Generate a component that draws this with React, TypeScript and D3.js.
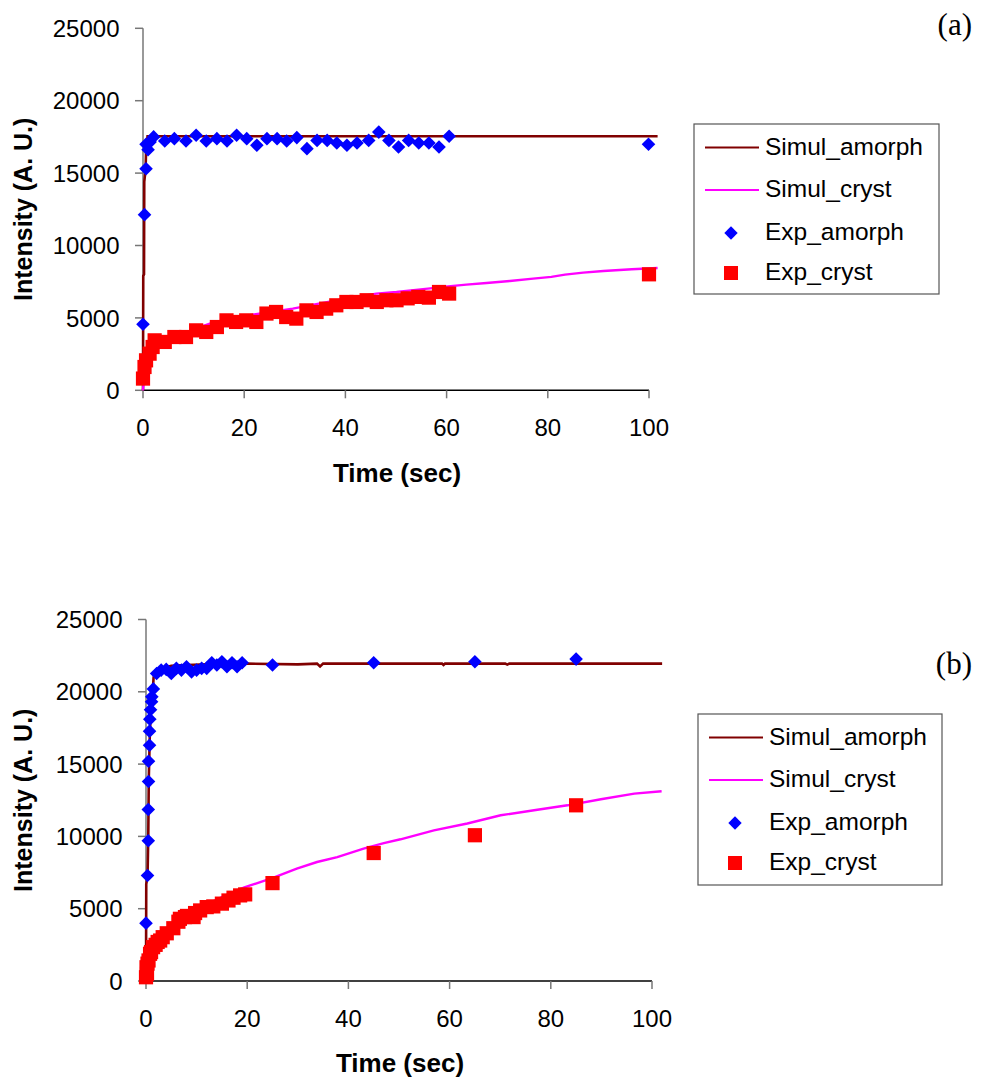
import React from "react";
import * as d3 from "d3";

// ---------- DATA (time in sec, intensity in A.U.) ----------
const xTickValues = [0, 20, 40, 60, 80, 100];
const yTickValues = [0, 5000, 10000, 15000, 20000, 25000];
const legendLabels = ["Simul_amorph", "Simul_cryst", "Exp_amorph", "Exp_cryst"];
const panelLabels = ["(a)", "(b)"];

const topSimulAmorph: [number, number][] = [
  [0, 0], [0.05, 7900], [0.2, 8000], [0.25, 14400], [0.5, 15200], [0.6, 16400], [0.9, 17540], [101.7, 17540],
];
const topSimulCryst: [number, number][] = [
  [0, 0], [0.2, 900], [0.5, 1500], [1, 2000], [2, 2600], [4, 3200], [6, 3600], [8, 3900], [10, 4200],
  [13.2, 4600], [17, 4950], [22.3, 5250], [29.6, 5640], [35, 6000], [39.5, 6300], [46.1, 6680], [50.1, 6790],
  [56.3, 7020], [60.3, 7180], [63.9, 7300], [67.9, 7410], [72.5, 7550], [77.1, 7710], [80.7, 7830],
  [83.4, 7990], [87, 8130], [91, 8240], [96.6, 8360], [101.7, 8450],
];
const topExpAmorph: [number, number][] = [
  [0, 4560], [0.3, 12130], [0.6, 15300], [0.6, 16990], [1.0, 16620], [1.4, 17150], [2.1, 17500],
  [4.3, 17220], [6.2, 17380], [8.5, 17220], [10.5, 17610], [12.5, 17220], [14.6, 17380], [16.6, 17220],
  [18.5, 17610], [20.5, 17380], [22.5, 16920], [24.5, 17380], [26.5, 17380], [28.4, 17220], [30.4, 17450],
  [32.4, 16690], [34.4, 17260], [36.4, 17260], [38.3, 17080], [40.3, 16920], [42.3, 17080], [44.6, 17260],
  [46.6, 17830], [48.6, 17260], [50.5, 16800], [52.5, 17260], [54.5, 17080], [56.5, 17080], [58.5, 16800],
  [60.5, 17540], [99.9, 16990],
];
const topExpCryst: [number, number][] = [
  [0, 810], [0.3, 1610], [0.6, 2070], [1.3, 2530], [1.9, 2990], [2.3, 3450], [4.3, 3340], [6.2, 3680],
  [8.5, 3680], [10.5, 4140], [12.5, 4030], [14.6, 4370], [16.5, 4830], [18.4, 4720], [20.4, 4830],
  [22.4, 4720], [24.4, 5300], [26.3, 5410], [28.3, 5060], [30.3, 4950], [32.3, 5520], [34.3, 5410],
  [36.2, 5640], [38.2, 5870], [40.2, 6100], [42.2, 6100], [44.2, 6220], [46.2, 6100], [48.1, 6220],
  [50.1, 6220], [52.3, 6350], [54.4, 6450], [56.5, 6400], [58.5, 6790], [60.5, 6680], [100, 8010],
];

const bottomSimulAmorph: [number, number][] = [
  [0, 0], [0.05, 6700], [0.3, 7200], [0.45, 10000], [0.55, 14000], [0.75, 17000], [1.0, 19000],
  [1.3, 19800], [1.5, 21000], [1.8, 21400], [3, 21600], [5, 21800], [8, 21850], [12, 21900], [20, 21950],
  [30, 21900], [33.8, 21950], [34.4, 21750], [35, 21950], [45, 21950], [58.5, 21950], [58.8, 21850],
  [59.1, 21950], [71, 21950], [71.4, 21880], [71.8, 21950], [102, 21950],
];
const bottomSimulCryst: [number, number][] = [
  [0, 0], [0.3, 1000], [1, 1700], [2, 2400], [4, 3200], [6, 3900], [8, 4400], [10, 4900], [12, 5300],
  [15, 5800], [19.3, 6450], [20.6, 6610], [25.2, 7150], [29.8, 7770], [33.8, 8230], [37.8, 8570],
  [43, 9160], [47, 9540], [50.3, 9800], [56.9, 10420], [63.5, 10890], [70.1, 11460], [76.7, 11810],
  [83.3, 12150], [89.9, 12570], [96.5, 12960], [101.9, 13120],
];
const bottomExpAmorph: [number, number][] = [
  [0, 300], [0, 4000], [0.3, 7300], [0.45, 9700], [0.45, 11860], [0.5, 13800], [0.5, 15200], [0.7, 16300],
  [0.7, 17280], [0.75, 18110], [0.9, 18760], [1.1, 19310], [1.15, 19650], [1.45, 20200], [2.1, 21270],
  [3, 21500], [4, 21550], [5, 21270], [6, 21620], [7, 21500], [8, 21730], [9, 21380], [10, 21500],
  [11, 21620], [12, 21620], [13, 22010], [14, 21850], [15, 22080], [16, 21730], [17, 22010], [18, 21730],
  [19, 22010], [25, 21850], [45, 22010], [65, 22080], [85, 22260],
];
const bottomExpCryst: [number, number][] = [
  [0, 260], [0.1, 950], [0.2, 500], [0.3, 1200], [0.5, 1420], [0.8, 1880], [1.0, 2000], [1.4, 2340],
  [1.9, 2500], [2.3, 2700], [2.8, 2800], [3.3, 3030], [4.1, 3300], [5.4, 3650], [6.4, 4100], [6.7, 4300],
  [7.7, 4420], [8.1, 4500], [9.4, 4420], [9.7, 4700], [10.7, 4880], [12.0, 5110], [13.3, 5160], [15, 5350],
  [16.3, 5570], [17.3, 5760], [18.6, 5920], [19.6, 5990], [25, 6770], [45, 8850], [65, 10080], [85, 12150],
];

// ---------- STYLE ----------
const FONT = "'Liberation Sans', Arial, Helvetica, sans-serif";
const C_AMORPH_LINE = "#800000";
const C_CRYST_LINE = "#FF00FF";
const C_DIAMOND = "#0000FF";
const C_SQUARE = "#FF0000";

type PanelCfg = {
  x0: number; x1: number; yTop: number; yBot: number;
  titleY: number; legend: { x: number; y: number; w: number; h: number };
  label: string; labelY: number;
  simA: [number, number][]; simC: [number, number][]; expA: [number, number][]; expC: [number, number][];
};

const diamondPath = (cx: number, cy: number, r: number) =>
  `M${cx},${cy - r}L${cx + r},${cy}L${cx},${cy + r}L${cx - r},${cy}Z`;

function Panel({ cfg }: { cfg: PanelCfg }) {
  const x = d3.scaleLinear().domain([0, 100]).range([cfg.x0, cfg.x1]);
  const y = d3.scaleLinear().domain([0, 25000]).range([cfg.yBot, cfg.yTop]);
  const line = d3.line<[number, number]>().x((d) => x(d[0])).y((d) => y(d[1]));
  const lg = cfg.legend;
  const rowBase = [30.5, 73, 116, 156];
  return (
    <g>
      {/* axes */}
      <line x1={cfg.x0} x2={cfg.x0} y1={cfg.yTop} y2={cfg.yBot} stroke="#777" strokeWidth={1.5} />
      <line x1={cfg.x0} x2={cfg.x1} y1={cfg.yBot} y2={cfg.yBot} stroke="#000" strokeWidth={1.5} />
      {yTickValues.map((v) => (
        <g key={"y" + v}>
          <line x1={cfg.x0 - 8} x2={cfg.x0} y1={y(v)} y2={y(v)} stroke="#777" strokeWidth={1.5} />
          <text x={cfg.x0 - 23.5} y={y(v) + 8.6} textAnchor="end" fontFamily={FONT} fontSize={24} fill="#000">
            {v}
          </text>
        </g>
      ))}
      {xTickValues.map((v) => (
        <g key={"x" + v}>
          <line x1={x(v)} x2={x(v)} y1={cfg.yBot} y2={cfg.yBot + 8} stroke="#777" strokeWidth={1.5} />
          <text x={x(v)} y={cfg.yBot + 45.7} textAnchor="middle" fontFamily={FONT} fontSize={24} fill="#000">
            {v}
          </text>
        </g>
      ))}
      <text x={(cfg.x0 + cfg.x1) / 2 + 1} y={cfg.titleY} textAnchor="middle" fontFamily={FONT} fontWeight="bold" fontSize={26} fill="#000">
        Time (sec)
      </text>
      <text
        transform={`translate(32,${(cfg.yTop + cfg.yBot) / 2}) rotate(-90)`}
        textAnchor="middle" fontFamily={FONT} fontWeight="bold" fontSize={25} fill="#000"
      >
        Intensity (A. U.)
      </text>

      {/* series */}
      <path d={line(cfg.simA) || ""} fill="none" stroke={C_AMORPH_LINE} strokeWidth={2.6} />
      <path d={line(cfg.simC) || ""} fill="none" stroke={C_CRYST_LINE} strokeWidth={2.4} />
      {cfg.expA.map((d, i) => (
        <path key={"a" + i} d={diamondPath(x(d[0]), y(d[1]), 6.8)} fill={C_DIAMOND} />
      ))}
      {cfg.expC.map((d, i) => (
        <rect key={"c" + i} x={x(d[0]) - 7.1} y={y(d[1]) - 7.1} width={14.2} height={14.2} fill={C_SQUARE} />
      ))}

      {/* legend */}
      <rect x={lg.x} y={lg.y} width={lg.w} height={lg.h} fill="#fff" stroke="#555" strokeWidth={1.2} />
      {legendLabels.map((lab, i) => {
        const base = lg.y + rowBase[i];
        const my = base - 7;
        const mx = lg.x + 37;
        return (
          <g key={lab}>
            {i === 0 && <line x1={lg.x + 11} x2={lg.x + 65} y1={my} y2={my} stroke={C_AMORPH_LINE} strokeWidth={2} />}
            {i === 1 && <line x1={lg.x + 11} x2={lg.x + 65} y1={my} y2={my} stroke={C_CRYST_LINE} strokeWidth={2} />}
            {i === 2 && <path d={diamondPath(mx, my, 6.7)} fill={C_DIAMOND} />}
            {i === 3 && <rect x={mx - 7} y={my - 7} width={14} height={14} fill={C_SQUARE} />}
            <text x={lg.x + 71} y={base} fontFamily={FONT} fontSize={24.5} fill="#000">
              {lab}
            </text>
          </g>
        );
      })}

      <text
        x={972} y={cfg.labelY} textAnchor="end" fontFamily="'Liberation Serif', 'Times New Roman', serif"
        fontSize={31} fill="#000"
      >
        {cfg.label}
      </text>
    </g>
  );
}

const topCfg: PanelCfg = {
  x0: 143, x1: 649, yTop: 28.3, yBot: 390.3, titleY: 481.7,
  legend: { x: 694, y: 124, w: 245, h: 170 }, label: panelLabels[0], labelY: 35,
  simA: topSimulAmorph, simC: topSimulCryst, expA: topExpAmorph, expC: topExpCryst,
};
const bottomCfg: PanelCfg = {
  x0: 146, x1: 652, yTop: 619.5, yBot: 981, titleY: 1072,
  legend: { x: 698, y: 714, w: 244, h: 171 }, label: panelLabels[1], labelY: 674,
  simA: bottomSimulAmorph, simC: bottomSimulCryst, expA: bottomExpAmorph, expC: bottomExpCryst,
};

export default function App() {
  return (
    <svg
      width={985}
      height={1082}
      viewBox="0 0 985 1082"
      style={{ position: "absolute", left: 0, top: 0, background: "#fff" }}
    >
      <rect x={0} y={0} width={985} height={1082} fill="#fff" />
      <Panel cfg={topCfg} />
      <Panel cfg={bottomCfg} />
    </svg>
  );
}
